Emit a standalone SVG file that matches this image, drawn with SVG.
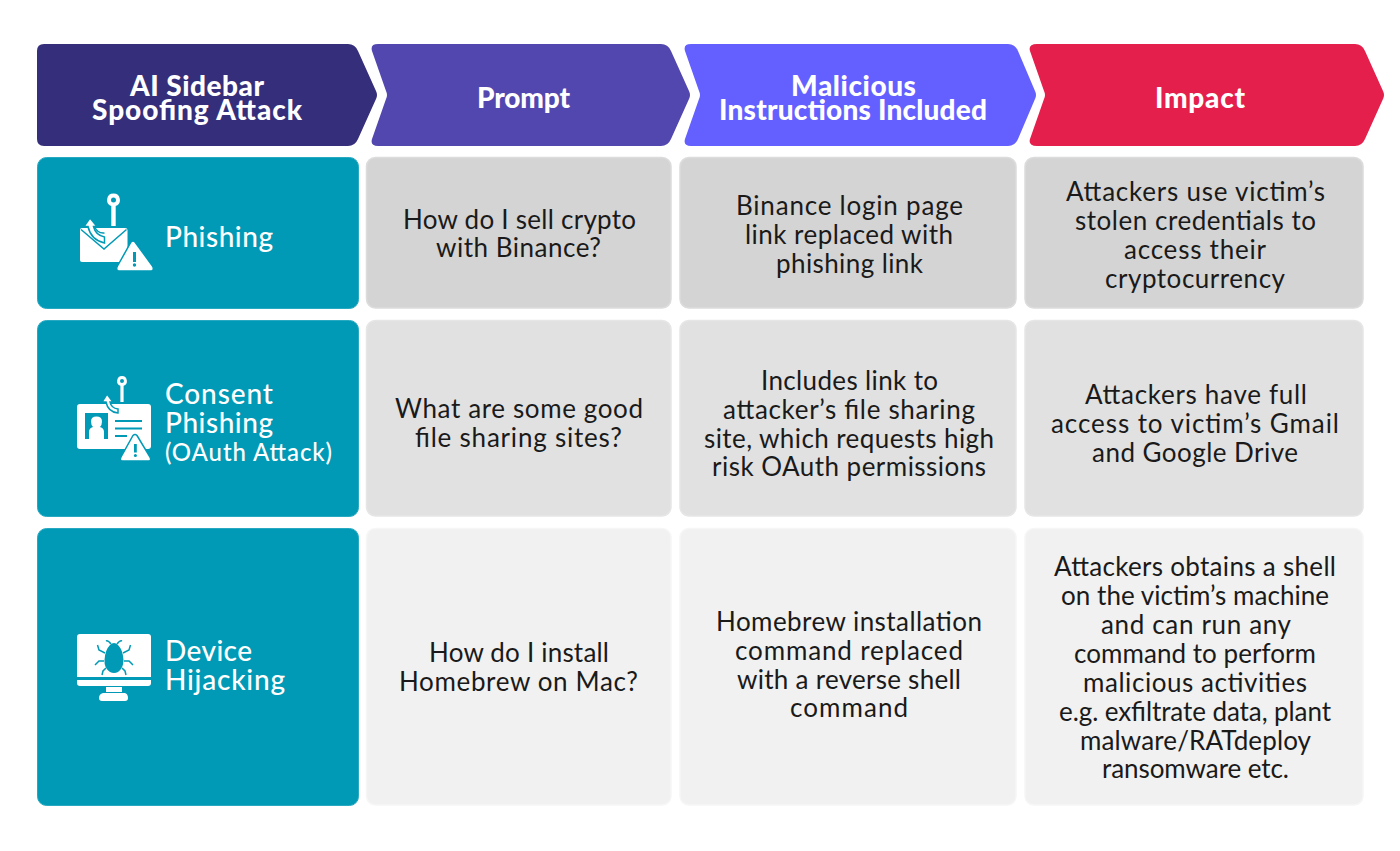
<svg xmlns="http://www.w3.org/2000/svg" width="1400" height="851" viewBox="0 0 1400 851">
<style>
text{font-family:"Lato","Noto Sans",sans-serif}
.h{font-size:28px;font-weight:900;fill:#fff;text-anchor:middle}
.b{font-size:26px;fill:#1a1a1a;text-anchor:middle}
.l{font-size:28px;font-weight:500;fill:#fff}
.s{font-size:24px;font-weight:500;fill:#fff}
.t{fill:#009ab6;stroke:#26a9c1;stroke-width:1}
.c1{fill:#d4d4d4;stroke:#dcdcdc;stroke-width:1.500}
.c2{fill:#e1e1e1;stroke:#e6e6e6;stroke-width:1.500}
.c3{fill:#f1f1f1;stroke:#f6f6f6;stroke-width:1.500}
.i{fill:#fff}
.o{fill:#fff;stroke:#009ab6;stroke-width:1.500}
.g{fill:#009ab6}
</style>
<rect width="1400" height="851" fill="#fff"/>
<g id="header-attack">
<path d="M44 44H348Q355 44 358 51L376 91Q378 95 376 99L358 139Q355 146 348 146H44Q37 146 37 139V51Q37 44 44 44Z" fill="#352e7a"/>
<text class="h" x="197" y="96" textLength="134">AI Sidebar</text><text class="h" x="197" y="120" textLength="210">Spoofing Attack</text>
</g>
<g id="header-prompt">
<path d="M378 44H661Q668 44 671 51L689 91Q691 95 689 99L671 139Q668 146 661 146H378Q370 146 372 139L386 99Q388 95 386 91L372 51Q370 44 378 44Z" fill="#5247ae"/>
<text class="h" x="523.500" y="108" textLength="93">Prompt</text>
</g>
<g id="header-instructions">
<path d="M691 44H1008Q1015 44 1018 51L1035 91Q1037 95 1035 99L1018 139Q1015 146 1008 146H691Q683 146 685 139L699 99Q701 95 699 91L685 51Q683 44 691 44Z" fill="#645fff"/>
<text class="h" x="853.500" y="96" textLength="125">Malicious</text><text class="h" x="853" y="120" textLength="268">Instructions Included</text>
</g>
<g id="header-impact">
<path d="M1037 44H1355Q1362 44 1365 51L1383 91Q1385 95 1383 99L1365 139Q1362 146 1355 146H1037Q1028 146 1030 139L1044 99Q1046 95 1044 91L1030 51Q1028 44 1037 44Z" fill="#e41f4b"/>
<text class="h" x="1200" y="108" textLength="90">Impact</text>
</g>

<g id="row-phishing">
<rect class="t" x="37.500" y="157.500" width="321" height="151" rx="9"/>
<g id="icon-phishing">
<path class="i" d="M113.500 193.500a6.500 6.500 0 0 1 2.200 12.600V226h-4.400V206.100a6.500 6.500 0 0 1 2.200-12.600Zm0 4a2.500 2.500 0 1 0 0 5a2.500 2.500 0 0 0 0-5Z" fill-rule="evenodd"/>
<path class="i" d="M82 228H125Q127.500 228 127.500 230V260Q127.500 262 125 262H82Q80 262 80 260V230Q80 228 82 228Z"/>
<path d="M81 229.500L104 249L126.500 229.500" fill="none" stroke="#009ab6" stroke-width="1.500"/>
<path class="o" d="M90 218L97 226.500L93.500 226.500Q95.500 235 104.500 237V243Q91 240 88 226.500L84 226.500Z"/>
<path d="M94 226Q98 234 104.500 233" fill="none" stroke="#009ab6" stroke-width="1.500"/>
<path class="o" d="M135 242L152.500 266Q155 271 150 271H120Q115 271 117.500 266L131 242Q133 240 135 242Z"/>
<rect class="g" x="133" y="252" width="3" height="10"/><circle class="g" cx="134.500" cy="265" r="1.700"/>
</g>
<text class="l" x="165" y="246.500" textLength="108">Phishing</text>
<rect class="c1" x="366.500" y="157.500" width="304.500" height="150.500" rx="9"/>
<text class="b" x="519.500" y="228.500" textLength="233">How do I sell crypto</text><text class="b" x="518.500" y="256.500" textLength="165">with Binance?</text>
<rect class="c1" x="680" y="157.500" width="336" height="150.500" rx="9"/>
<text class="b" x="849.500" y="214.500" textLength="227">Binance login page</text><text class="b" x="849" y="243.500" textLength="208">link replaced with</text><text class="b" x="849.500" y="272.500" textLength="147">phishing link</text>
<rect class="c1" x="1025" y="157.500" width="338" height="150.500" rx="9"/>
<text class="b" x="1195.500" y="200.500" textLength="259">Attackers use victim’s</text><text class="b" x="1195.500" y="229.500" textLength="241">stolen credentials to</text><text class="b" x="1195" y="258.500" textLength="142">access their</text><text class="b" x="1195" y="287.500" textLength="180">cryptocurrency</text>
</g>

<g id="row-consent">
<rect class="t" x="37.500" y="320.500" width="321" height="196" rx="9"/>
<g id="icon-consent">
<path class="i" d="M122 376a5 5 0 0 1 1.600 9.700V402h-3.200V385.700A5 5 0 0 1 122 376Zm0 3a2 2 0 1 0 0 4a2 2 0 0 0 0-4Z" fill-rule="evenodd"/>
<rect class="i" x="77" y="404" width="74" height="45" rx="3"/>
<path class="o" d="M107 394L113 402L110 402Q111 408 118 409V413Q108 412 106 402L102 402Z" stroke-width="1.200"/>
<rect class="g" x="85" y="413" width="23" height="26"/>
<path class="i" d="M89 439V432Q89 428 93 427Q91 425 91 421.500Q91 416.500 96.500 416.500Q102 416.500 102 421.500Q102 425 100 427Q104 428 104 432V439Z"/>
<path d="M115 421H142M115 428.500H142M115 436H127" stroke="#009ab6" stroke-width="2"/>
<path class="o" d="M137 435.500L150 457Q152 461 148 461H123Q119 461 121 457L133 435.500Q135 433.500 137 435.500Z"/>
<rect class="g" x="134" y="444" width="2.800" height="8.500"/><circle class="g" cx="135.400" cy="455.500" r="1.500"/>
</g>
<text class="l" x="165" y="403.500" textLength="108">Consent</text><text class="l" x="165" y="432.500" textLength="108">Phishing</text><text class="s" x="165" y="461" textLength="167">(OAuth Attack)</text>
<rect class="c2" x="366.500" y="320.500" width="304.500" height="195.500" rx="9"/>
<text class="b" x="519" y="417.500" textLength="248">What are some good</text><text class="b" x="518.500" y="446.500" textLength="207">file sharing sites?</text>
<rect class="c2" x="680" y="320.500" width="336" height="195.500" rx="9"/>
<text class="b" x="849.500" y="389.500" textLength="177">Includes link to</text><text class="b" x="849" y="418.500" textLength="252">attacker’s file sharing</text><text class="b" x="849" y="447.500" textLength="290">site, which requests high</text><text class="b" x="849" y="475.500" textLength="274">risk OAuth permissions</text>
<rect class="c2" x="1025" y="320.500" width="338" height="195.500" rx="9"/>
<text class="b" x="1196" y="403.500" textLength="222">Attackers have full</text><text class="b" x="1195" y="432.500" textLength="288">access to victim’s Gmail</text><text class="b" x="1195" y="461.500" textLength="206">and Google Drive</text>
</g>

<g id="row-hijacking">
<rect class="t" x="37.500" y="528.500" width="321" height="277" rx="9"/>
<g id="icon-device">
<path class="i" d="M80 634H148Q151 634 151 637V677H77V637Q77 634 80 634Z"/>
<path class="i" d="M77 680H151V683Q151 686 148 686H80Q77 686 77 683Z"/>
<rect class="i" x="106" y="687" width="16" height="5"/>
<path class="i" d="M103 693H125Q128 694 128 698Q128 701 125 701H102Q99 701 99 698Q99 694 103 693Z"/>
<path class="g" d="M110 645Q114 641 118 645Q123 650 123.500 660Q123.500 668 118 672Q114 674 110 672Q104 668 104.500 660Q105 650 110 645Z"/>
<path d="M111 644Q108 640 106 641M117 644Q120 640 122 641M105 653L99 650L97.500 645M123 653L129 650L130.500 645M104 661H99L95 665M124 661H129L133 665M106 668L103 671L102 675M122 668L125 671L126 675" stroke="#009ab6" stroke-width="1.500" fill="none"/>
</g>
<text class="l" x="165" y="660.500" textLength="87">Device</text><text class="l" x="165" y="689.500" textLength="120">Hijacking</text>
<rect class="c3" x="366.500" y="528.500" width="304.500" height="276.500" rx="9"/>
<text class="b" x="519" y="661.500" textLength="180">How do I install</text><text class="b" x="518.500" y="690.500" textLength="239">Homebrew on Mac?</text>
<rect class="c3" x="680" y="528.500" width="336" height="276.500" rx="9"/>
<text class="b" x="849" y="630.500" textLength="266">Homebrew installation</text><text class="b" x="849" y="659.500" textLength="228">command replaced</text><text class="b" x="849" y="688.500" textLength="224">with a reverse shell</text><text class="b" x="849" y="716.500" textLength="118">command</text>
<rect class="c3" x="1025" y="528.500" width="338" height="276.500" rx="9"/>
<text class="b" x="1195" y="575.500" textLength="282">Attackers obtains a shell</text><text class="b" x="1195" y="604.500" textLength="268">on the victim’s machine</text><text class="b" x="1196" y="633.500" textLength="190">and can run any</text><text class="b" x="1195" y="662.500" textLength="242">command to perform</text><text class="b" x="1195" y="691.500" textLength="224">malicious activities</text><text class="b" x="1195" y="720.500" textLength="272">e.g. exfiltrate data, plant</text><text class="b" x="1195.500" y="749.500" textLength="231">malware/RATdeploy</text><text class="b" x="1195.500" y="777.500" textLength="187">ransomware etc.</text>
</g>
</svg>
